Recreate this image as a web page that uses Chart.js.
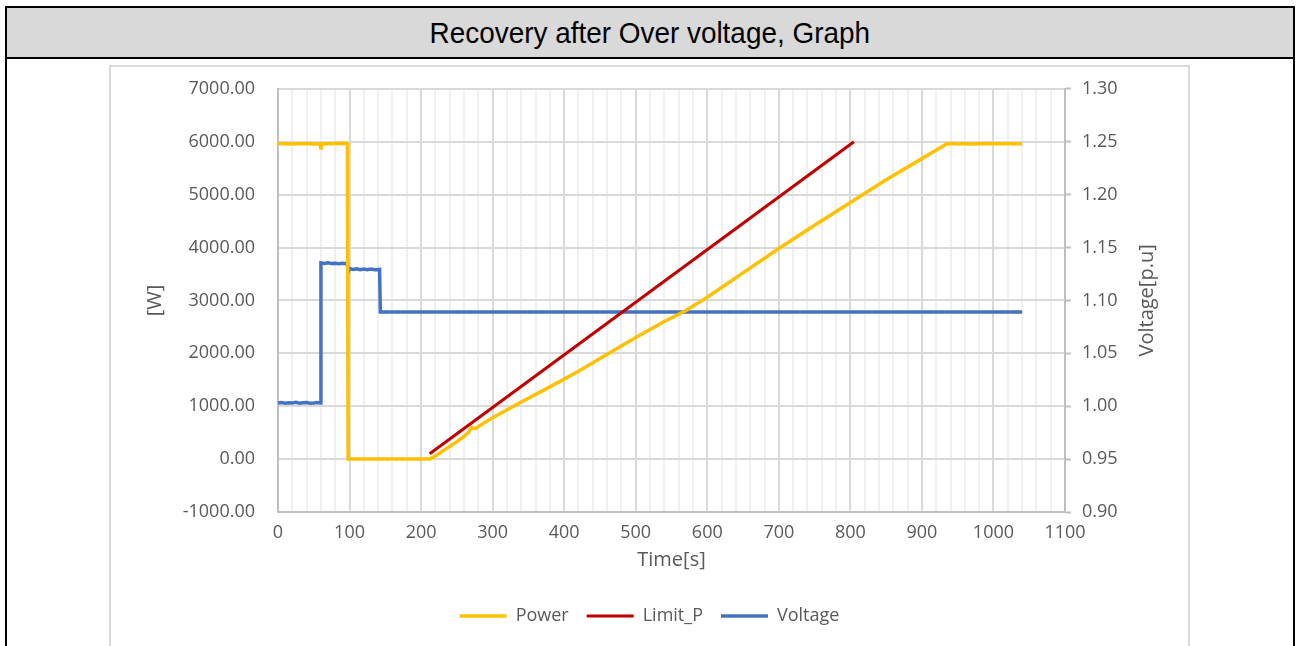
<!DOCTYPE html>
<html>
<head>
<meta charset="utf-8">
<script src="https://cdn.jsdelivr.net/npm/chart.js@4.4.0/dist/chart.umd.min.js"></script>
<style>
  html, body { margin: 0; padding: 0; background: #fff; width: 1296px; height: 646px; overflow: hidden; }
  #frame { position: absolute; left: 5px; top: 6px; width: 1286px; height: 700px; border: 2px solid #000; }
  #titlebar { position: absolute; left: 0; top: 0; width: 1286px; height: 49px; background: #d9d9d9; border-bottom: 2px solid #000;
    display: flex; align-items: center; justify-content: center; }
  #titlebar span { display: inline-block; font-family: "Liberation Sans Narrow", "Liberation Sans", Arial, sans-serif; font-size: 30px; color: #000;
    transform: scaleX(0.93); white-space: nowrap; }
  #box { position: absolute; left: 109px; top: 65px; width: 1077px; height: 700px; border: 2px solid #d9d9d9; }
  #wrap { position: absolute; left: 0; top: -12px; width: 1077px; height: 591px; }
</style>
</head>
<body>
<div id="frame"><div id="titlebar"><span>Recovery after Over voltage, Graph</span></div></div>
<div id="box"><div id="wrap"><canvas id="c"></canvas></div></div>
<script>
// ---- data ----
const powerTime   = [0, 10, 20, 30, 40, 50, 59, 60, 61, 70, 80, 90, 97, 98, 120, 150, 180, 212, 220, 230, 240, 250, 260, 266, 270, 276, 290, 300, 340, 380, 420, 450, 500, 540, 569, 600, 650, 700, 750, 800, 850, 900, 935, 950, 970, 990, 1010, 1040];
const powerValues = [5965, 5960, 5955, 5960, 5965, 5958, 5960, 5850, 5960, 5962, 5965, 5970, 5968, 0, 0, 0, 0, 0, 60, 150, 240, 330, 430, 500, 590, 580, 700, 780, 1080, 1365, 1660, 1900, 2300, 2600, 2800, 3060, 3520, 3980, 4420, 4850, 5280, 5680, 5960, 5962, 5958, 5965, 5960, 5962];

const limitTime   = [212, 805];
const limitValues = [100, 6000];

const voltageTime   = [0, 5, 10, 15, 20, 25, 30, 35, 40, 45, 50, 55, 59, 60, 65, 70, 75, 80, 85, 90, 97, 98, 100, 105, 110, 115, 120, 125, 130, 135, 142, 143, 1040];
const voltageValues = [1.0030, 1.0035, 1.0028, 1.0033, 1.0030, 1.0036, 1.0029, 1.0032, 1.0035, 1.0029, 1.0031, 1.0034, 1.0030, 1.1355, 1.1350, 1.1356, 1.1348, 1.1352, 1.1347, 1.1350, 1.1345, 1.1270, 1.1300, 1.1292, 1.1298, 1.1290, 1.1297, 1.1291, 1.1296, 1.1290, 1.1293, 1.0890, 1.0890];

const xTicks = { min: 0, max: 1100, minorStep: 20, majorStep: 100 };
const yTicks = { min: -1000, max: 7000, step: 1000 };
const y1Ticks = { min: 0.90, max: 1.30, step: 0.05 };

const toPts = (xs, ys) => xs.map((x, i) => ({ x: x, y: ys[i] }));

const FONT = '"Open Sans", "Noto Sans", sans-serif';
const TXT = '#595959';

const rightTitle = {
  id: 'rightTitle',
  afterDraw(chart) {
    const ctx = chart.ctx, a = chart.chartArea;
    ctx.save();
    ctx.translate(1036, (a.top + a.bottom) / 2);
    ctx.rotate(-Math.PI / 2);
    ctx.font = '20px ' + FONT;
    ctx.fillStyle = TXT;
    ctx.textAlign = 'center';
    ctx.textBaseline = 'middle';
    ctx.fillText('Voltage[p.u]', 0, 0);
    ctx.restore();
  }
};

new Chart(document.getElementById('c'), {
  type: 'line',
  data: {
    datasets: [
      { label: 'Power', data: toPts(powerTime, powerValues), borderColor: '#ffc000', backgroundColor: '#ffc000', borderWidth: 3.5, pointRadius: 0, yAxisID: 'y', tension: 0 },
      { label: 'Limit_P', data: toPts(limitTime, limitValues), borderColor: '#c00000', backgroundColor: '#c00000', borderWidth: 3, pointRadius: 0, yAxisID: 'y', tension: 0 },
      { label: 'Voltage', data: toPts(voltageTime, voltageValues), borderColor: '#4472c4', backgroundColor: '#4472c4', borderWidth: 3.5, pointRadius: 0, yAxisID: 'y1', tension: 0 }
    ]
  },
  options: {
    responsive: true,
    maintainAspectRatio: false,
    animation: false,
    layout: { padding: { left: 0, right: 0, top: 9, bottom: 11 } },
    plugins: {
      title: { display: false },
      tooltip: { enabled: false },
      legend: {
        position: 'bottom',
        labels: { usePointStyle: true, pointStyle: 'line', pointStyleWidth: 47, boxHeight: 3, font: { family: FONT, size: 18 }, color: TXT, padding: 18 }
      }
    },
    scales: {
      x: {
        type: 'linear', min: xTicks.min, max: xTicks.max,
        ticks: { stepSize: xTicks.minorStep, autoSkip: false, maxRotation: 0, padding: 10, color: TXT, font: { family: FONT, size: 18 },
          callback: (v) => (Math.round(v) % xTicks.majorStep === 0 ? String(Math.round(v)) : '') },
        grid: { drawTicks: false, color: (c) => (c.tick && Math.round(c.tick.value) % xTicks.majorStep === 0 ? '#d9d9d9' : '#f0f0f0'), lineWidth: 2 },
        border: { color: '#bfbfbf', width: 2 },
        title: { display: true, text: 'Time[s]', color: TXT, font: { family: FONT, size: 20 }, padding: { top: 0, bottom: 17 } },
        afterFit: (s) => { s.height = 77; }
      },
      y: {
        position: 'left', min: yTicks.min, max: yTicks.max,
        ticks: { stepSize: yTicks.step, padding: 23, color: TXT, font: { family: FONT, size: 18 }, callback: (v) => Number(v).toFixed(2) },
        grid: { drawTicks: false, color: '#d9d9d9', lineWidth: 2 },
        border: { color: '#bfbfbf', width: 2 },
        title: { display: true, text: '[W]', color: TXT, font: { family: FONT, size: 20 }, padding: { top: 32, bottom: 0 } },
        afterFit: (s) => { s.width = 167; }
      },
      y1: {
        position: 'right', min: y1Ticks.min, max: y1Ticks.max,
        ticks: { stepSize: y1Ticks.step, padding: 11, color: TXT, font: { family: FONT, size: 18 }, callback: (v) => Number(v).toFixed(2) },
        grid: { drawOnChartArea: false, drawTicks: true, tickLength: 6, tickColor: '#bfbfbf', tickWidth: 2 },
        border: { color: '#bfbfbf', width: 2 },
        afterFit: (s) => { s.width = 123; }
      }
    }
  },
  plugins: [rightTitle]
});
</script>
</body>
</html>
